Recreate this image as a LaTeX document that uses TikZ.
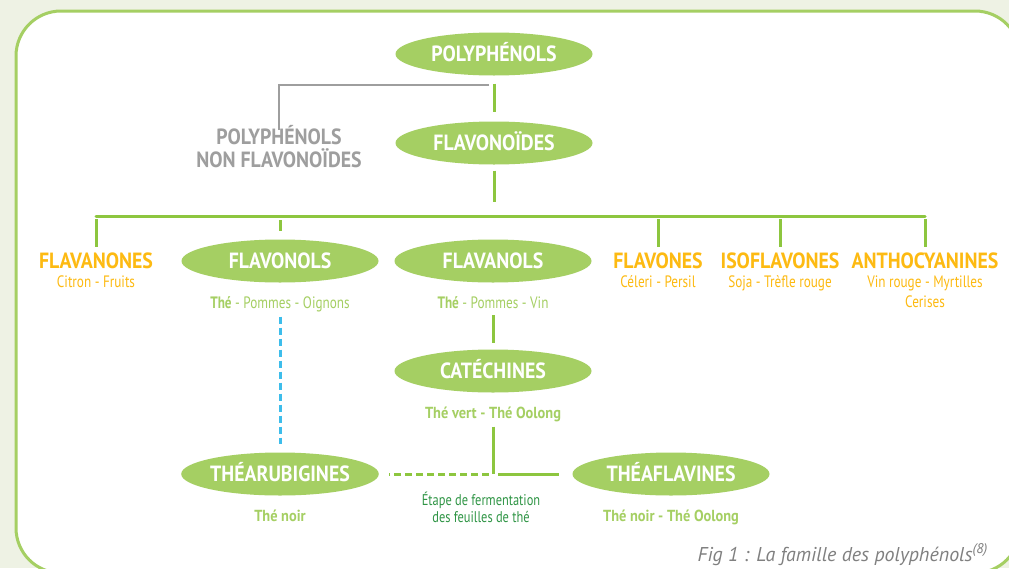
\documentclass[tikz,border=0pt]{standalone}
\usepackage{fontspec}
\setmainfont{PT Sans}[FakeStretch=0.8]
\newfontfamily\headfont{PT Sans}[FakeStretch=0.9]
\newfontfamily\capfont{PT Sans}
\usetikzlibrary{shapes.geometric,positioning}

\definecolor{leaf}{HTML}{A5CF63}
\definecolor{stem}{HTML}{8DC63F}
\definecolor{gold}{HTML}{FDBA12}
\definecolor{ash}{HTML}{9E9E9E}
\definecolor{sky}{HTML}{3DBDEB}
\definecolor{moss}{HTML}{2F9545}
\definecolor{paper}{HTML}{EEF2E4}
\definecolor{note}{HTML}{808080}

\tikzset{
  family/.style={ellipse,fill=leaf,text=white,inner sep=0pt,minimum width=197pt,minimum height=43pt,
    font=\headfont\fontsize{22}{24}\selectfont\bfseries,text height=15pt,text depth=0pt},
  kind/.style={text=gold,inner sep=0pt,anchor=base,font=\headfont\fontsize{22}{24}\selectfont\bfseries},
  food/.style={text=gold,inner sep=0pt,anchor=base,align=center,font=\fontsize{16.5}{20}\selectfont},
  tea/.style={text=leaf,inner sep=0pt,anchor=base,font=\fontsize{16.5}{20}\selectfont},
  teabold/.style={tea,font=\headfont\fontsize{16}{20}\selectfont\bfseries},
  stemline/.style={draw=stem,line width=3pt},
  ashline/.style={draw=ash,line width=2.5pt},
  skyline/.style={draw=sky,line width=3pt,dash pattern=on 7pt off 4pt},
}

\begin{document}
\begin{tikzpicture}[x=1pt,y=-1pt]
	\useasboundingbox (0,0) rectangle (1009,568);
	\clip (0,0) rectangle (1009,568);
	\fill[paper] (0,0) rectangle (1009,568);
	\draw[draw=leaf,fill=white,line width=3pt,rounded corners=45pt] (16,11) rectangle (1020,573);

	% top of the tree
	\node[family] (poly) at (494,54) {POLYPHÉNOLS};
	\node[family] (flavo) at (494,143) {FLAVONOÏDES};
	\node[text=ash,inner sep=0pt,align=center,font=\headfont\fontsize{22}{23}\selectfont\bfseries] (nonflav) at (279,147) {POLYPHÉNOLS\\NON FLAVONOÏDES};
	\coordinate (fork) at (489,85);
	\coordinate (bar) at (494,216);

	% classes
	\node[kind] (flavanones) at (96,268) {FLAVANONES};
	\node[family] (flavonols) at (280,261) {FLAVONOLS};
	\node[family] (flavanols) at (493,261) {FLAVANOLS};
	\node[kind] (flavones) at (658,268) {FLAVONES};
	\node[kind] (isoflav) at (780,268) {ISOFLAVONES};
	\node[kind] (antho) at (925,268) {ANTHOCYANINES};

	\node[food] (flavanones-food) at (96,287) {Citron - Fruits};
	\node[food] (flavones-food) at (658,287) {Céleri - Persil};
	\node[food] (isoflav-food) at (780,287) {Soja - Trèfle rouge};
	\node[food] (antho-food) at (925,307) {Vin rouge - Myrtilles\\Cerises};
	\node[tea] (flavonols-tea) at (280,308) {\textbf{Thé} - Pommes - Oignons};
	\node[tea] (flavanols-tea) at (493,308) {\textbf{Thé} - Pommes - Vin};

	% tea
	\node[family] (catech) at (493,371) {CATÉCHINES};
	\node[teabold] (catech-tea) at (493,418) {Thé vert - Thé Oolong};
	\node[family] (rubi) at (280,474) {THÉARUBIGINES};
	\node[family] (theafl) at (671,474) {THÉAFLAVINES};
	\node[teabold] (rubi-tea) at (280,521) {Thé noir};
	\node[teabold] (theafl-tea) at (671,521) {Thé noir - Thé Oolong};
	\node[text=moss,inner sep=0pt,anchor=base,align=center,font=\fontsize{15.5}{17}\selectfont] (ferment) at (481,522) {Étape de fermentation\\des feuilles de thé};
	\coordinate (join) at (493,474);

	\node[text=note,inner sep=0pt,anchor=base east,font=\capfont\fontsize{20}{22}\selectfont\itshape] (caption) at (988,561) {Fig 1 : La famille des polyphénols\textsuperscript{(8)}};

	% connectors
	\draw[ashline] (fork) -| ([yshift=-4pt]nonflav.north);
	\draw[stemline,shorten <=8pt,shorten >=9pt] (poly) -- (flavo);
	\draw[stemline,shorten <=6pt] (flavo.south) -- ([yshift=14pt]bar);
	\draw[stemline,line cap=round] (flavanones |- bar) -- (antho |- bar);
	\foreach \n in {flavanones,flavones,isoflav,antho}
		\draw[stemline,shorten <=3pt,shorten >=5pt] (\n |- bar) -- (\n.north);
	\draw[stemline,shorten <=4pt,shorten >=8pt] (flavonols |- bar) -- (flavonols.north);
	\draw[stemline,shorten <=7pt,shorten >=6pt] (flavanols-tea) -- (catech);
	\draw[skyline,shorten <=5pt,shorten >=8pt] (flavonols-tea) -- (rubi);
	\draw[stemline,shorten <=5pt] (catech-tea) -- (join);
	\draw[stemline,dash pattern=on 7pt off 4pt,shorten <=4pt,shorten >=10pt] (join) -- (rubi);
	\draw[stemline,shorten <=5pt,shorten >=13pt] (join) -- (theafl);
\end{tikzpicture}
\end{document}
